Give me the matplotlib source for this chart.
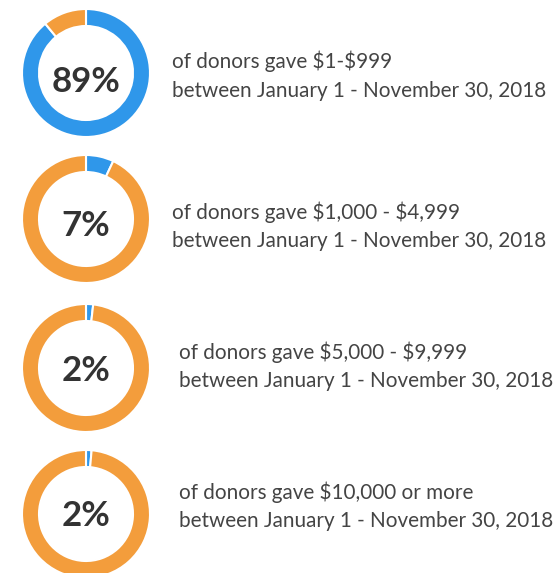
import matplotlib
matplotlib.use("Agg")
import matplotlib.pyplot as plt

# Data
labels = ["89%", "7%", "2%", "2%"]
blue_share = [89, 7, 1.8, 1.4]
line1 = [r"of donors gave \$1-\$999",
         r"of donors gave \$1,000 - \$4,999",
         r"of donors gave \$5,000 - \$9,999",
         r"of donors gave \$10,000 or more"]
line2 = ["between January 1 - November 30, 2018"] * 4

BLUE = "#2F97EA"
ORANGE = "#F39D3C"
W, H = 557, 573

fig = plt.figure(figsize=(W / 100, H / 100), dpi=100)
ax = fig.add_axes([0, 0, 1, 1])

centers_y = [73, 219, 368, 514]
num_center_y = [79.5, 223.5, 368.5, 513.5]
base1_y = [68, 219, 359, 499]
base2_y = [97, 247, 387, 527]
text_x = [172, 172, 179, 179]
cx = 86
R = 64
ring = 17

for i in range(4):
    cy = H - centers_y[i]
    ax.pie([blue_share[i], 100 - blue_share[i]], colors=[BLUE, ORANGE],
           startangle=90, counterclock=False, center=(cx, cy), radius=R,
           wedgeprops=dict(width=ring, edgecolor="white", linewidth=1.5))
    ax.text(cx, H - num_center_y[i] - 12.5, labels[i], ha="center", va="baseline",
            fontsize=25, fontweight="bold", color="#333333", family="Lato")
    ax.text(text_x[i], H - base1_y[i], line1[i], ha="left", va="baseline",
            fontsize=14.9, color="#444444", family="Lato")
    ax.text(text_x[i], H - base2_y[i], line2[i], ha="left", va="baseline",
            fontsize=14.9, color="#444444", family="Lato")

ax.set_xlim(0, W)
ax.set_ylim(0, H)
ax.set_aspect("equal")
ax.axis("off")
fig.savefig("out.png", dpi=100, facecolor="white")
